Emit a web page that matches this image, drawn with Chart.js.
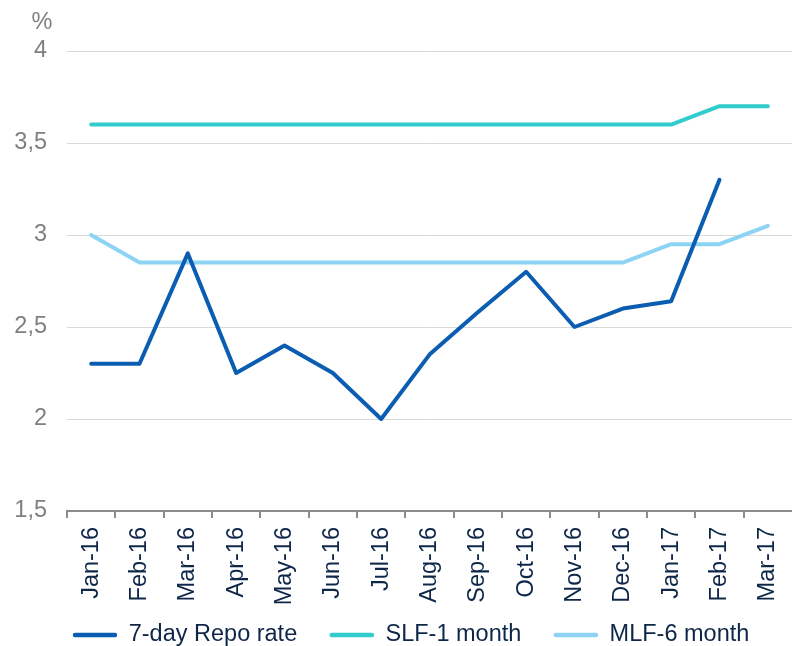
<!DOCTYPE html>
<html>
<head>
<meta charset="utf-8">
<script src="https://cdn.jsdelivr.net/npm/chart.js@4/dist/chart.umd.min.js"></script>
<style>
  html, body { margin: 0; padding: 0; background: #ffffff; }
  #wrap { position: relative; width: 792px; height: 646px; }
</style>
</head>
<body>
<div id="wrap"><canvas id="c" width="792" height="646"></canvas></div>
<script>
const categories = ["Jan-16","Feb-16","Mar-16","Apr-16","May-16","Jun-16","Jul-16","Aug-16","Sep-16","Oct-16","Nov-16","Dec-16","Jan-17","Feb-17","Mar-17"];
const repoRate = [2.3, 2.3, 2.9, 2.25, 2.4, 2.25, 2.0, 2.35, 2.58, 2.8, 2.5, 2.6, 2.64, 3.3, null];
const slf1Month = [3.6, 3.6, 3.6, 3.6, 3.6, 3.6, 3.6, 3.6, 3.6, 3.6, 3.6, 3.6, 3.6, 3.7, 3.7];
const mlf6Month = [3.0, 2.85, 2.85, 2.85, 2.85, 2.85, 2.85, 2.85, 2.85, 2.85, 2.85, 2.85, 2.95, 2.95, 3.05];
const seriesNames = ["7-day Repo rate", "SLF-1 month", "MLF-6 month"];
const yTicks = [1.5, 2, 2.5, 3, 3.5, 4];
const yUnit = "%";

const FONT = "'Liberation Sans', Arial, Helvetica, sans-serif";
const FS = 23.5;
const NAVY = "#0e2749";
const GREY = "#7f7f7f";
const AXIS = "#8c8c8c";

// legend sample: transparent lead-in then a short thick line
function legendSwatch(color) {
  const c = document.createElement('canvas');
  c.width = 59; c.height = 8;
  const g = c.getContext('2d');
  g.strokeStyle = color;
  g.lineWidth = 4.5;
  g.lineCap = 'round';
  g.beginPath();
  g.moveTo(17, 4);
  g.lineTo(57, 4);
  g.stroke();
  return c;
}

const unitPlugin = {
  id: 'unitLabel',
  afterDraw(chart) {
    const ctx = chart.ctx;
    const area = chart.chartArea;
    ctx.save();
    ctx.font = FS + "px " + FONT;
    ctx.fillStyle = GREY;
    ctx.textAlign = 'center';
    ctx.textBaseline = 'middle';
    ctx.fillText(yUnit, area.left - 25, area.top - 28);
    ctx.restore();
  }
};

function mkDs(label, data, color) {
  return {
    label, data,
    borderColor: color, backgroundColor: color,
    borderWidth: 4, pointRadius: 0, pointHoverRadius: 0,
    tension: 0, borderCapStyle: 'round', borderJoinStyle: 'round',
    fill: false, spanGaps: false
  };
}

new Chart(document.getElementById('c'), {
  type: 'line',
  data: {
    labels: categories,
    datasets: [
      mkDs(seriesNames[0], repoRate, '#0b5db1'),
      mkDs(seriesNames[1], slf1Month, '#33cccc'),
      mkDs(seriesNames[2], mlf6Month, '#8dd3f3')
    ]
  },
  plugins: [unitPlugin],
  options: {
    responsive: false,
    animation: false,
    devicePixelRatio: 1,
    layout: { padding: { left: 13.25, right: -2, top: 51, bottom: 0 } },
    plugins: {
      tooltip: { enabled: false },
      legend: {
        position: 'bottom',
        align: 'center',
        maxHeight: 40.25,
        labels: {
          usePointStyle: true,
          pointStyleWidth: 59,
          boxHeight: 8,
          padding: 17.5,
          color: NAVY,
          font: { family: FONT, size: FS },
          generateLabels(chart) {
            return chart.data.datasets.map((ds, i) => ({
              text: ds.label,
              fillStyle: ds.borderColor,
              strokeStyle: ds.borderColor,
              lineWidth: 0,
              pointStyle: legendSwatch(ds.borderColor),
              fontColor: NAVY,
              hidden: false,
              datasetIndex: i
            }));
          }
        }
      }
    },
    scales: {
      x: {
        type: 'category',
        offset: true,
        afterFit(scale) { scale.height = 94.75; scale.paddingLeft = 0; scale.paddingRight = 0; },
        grid: {
          offset: true,
          drawOnChartArea: false,
          drawTicks: true,
          tickLength: 7,
          color: (c) => (c.type === 'tick' ? AXIS : 'rgba(0,0,0,0)'),
          lineWidth: 2
        },
        border: { display: true, color: AXIS, width: 2 },
        ticks: {
          color: NAVY,
          font: { family: FONT, size: FS },
          minRotation: 90,
          maxRotation: 90,
          autoSkip: false,
          padding: 9
        }
      },
      y: {
        min: 1.5,
        max: 4,
        afterFit(scale) { scale.width = 67 - 13.25; },
        afterBuildTicks(scale) { scale.ticks = yTicks.map(v => ({ value: v })); },
        grid: { color: '#d9d9d9', lineWidth: 1, drawTicks: false },
        border: { display: false },
        ticks: {
          color: GREY,
          font: { family: FONT, size: FS },
          padding: 20,
          callback: (v) => String(v).replace('.', ',')
        }
      }
    }
  }
});
</script>
</body>
</html>
